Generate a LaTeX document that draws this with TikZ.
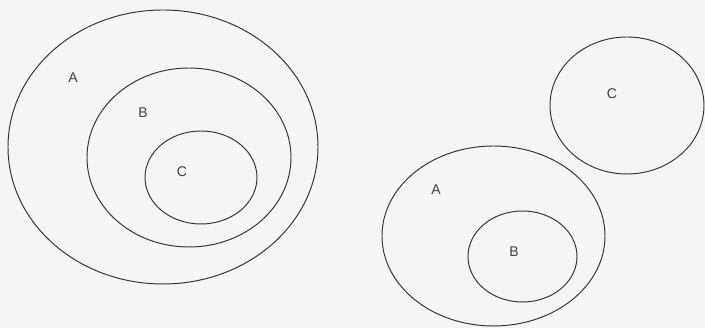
\documentclass[tikz,border=0pt]{standalone}
\usepackage{fontspec}
\setmainfont{Liberation Sans}
\usetikzlibrary{positioning,shapes.geometric}

\begin{document}
\begin{tikzpicture}[font=\footnotesize,
  set/.style={draw=black!80,line width=0.55pt,ellipse,inner sep=0pt},
  lbl/.style={text=black!75}]
\fill[black!4] (0,0) rectangle (14.1,6.56);
\useasboundingbox (0,0) rectangle (14.1,6.56);
% left: C inside B inside A
\node[set,minimum width=62mm,minimum height=54.8mm] (a1) at (3.26,3.62) {};
\node[set,minimum width=40.8mm,minimum height=35.8mm] (b1) at (3.78,3.41) {};
\node[set,minimum width=22.4mm,minimum height=18.6mm] (c1) at (4.02,3.01) {};
\node[lbl] (la1) at (1.46,5.00) {A};
\node[lbl] (lb1) at (2.86,4.30) {B};
\node[lbl] (lc1) at (3.64,3.12) {C};
% right: B inside A, C apart
\node[set,minimum width=44.6mm,minimum height=36mm] (a2) at (9.87,1.84) {};
\node[set,minimum width=21.8mm,minimum height=18.2mm] (b2) at (10.45,1.43) {};
\node[set,minimum width=30.8mm,minimum height=27.4mm] (c2) at (12.54,4.45) {};
\node[lbl] (la2) at (8.72,2.76) {A};
\node[lbl] (lb2) at (10.28,1.52) {B};
\node[lbl] (lc2) at (12.24,4.68) {C};
\end{tikzpicture}
\end{document}
